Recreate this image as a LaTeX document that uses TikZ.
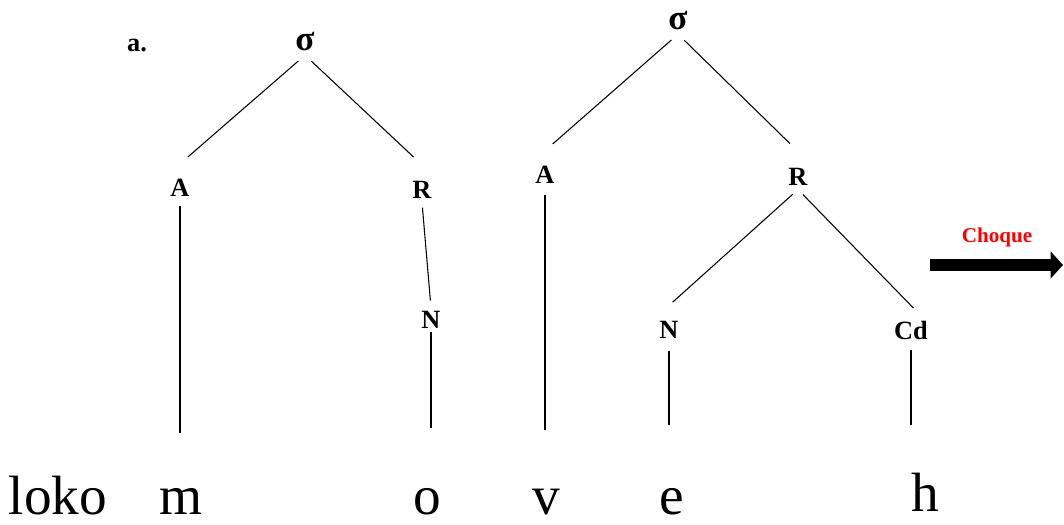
\documentclass[tikz,border=0pt]{standalone}
\usepackage{fontspec}
\setmainfont{Liberation Serif}
\usepackage{tikz}
\usetikzlibrary{positioning, arrows.meta}
\usepackage{xcolor}

\begin{document}
\begin{tikzpicture}[
    x=0.02cm, y=-0.02cm,
    lbl/.style={font=\bfseries\fontsize{15}{17}\selectfont, inner sep=2pt},
    sig/.style={font=\bfseries\fontsize{20}{22}\selectfont, inner sep=2pt},
    seg/.style={font=\fontsize{31.5}{34}\selectfont, anchor=base, inner sep=2pt},
    branch/.style={draw=black, line width=0.6pt},
    bigarrow/.style={line width=6.5pt, -{Triangle[length=7pt, width=15pt]}}
]
\useasboundingbox (0,0) rectangle (1064,524);

% Tree 1
\node (tag) [font=\bfseries\fontsize{15}{17}\selectfont] at (137,46) {a.};
\node (sig1) [sig] at (305,42) {σ};
\node (A1) [lbl] at (180,188) {A};
\node (R1) [lbl] at (422,190) {R};
\node (N1) [lbl] at (431,320) {N};

% Tree 2
\node (sig2) [sig] at (678,21) {σ};
\node (A2) [lbl] at (545,175) {A};
\node (R2) [lbl] at (798,177) {R};
\node (N2) [lbl] at (669,330) {N};
\node (Cd) [lbl] at (911,330) {Cd};

% Segments
\node (loko) [seg] at (58,514) {loko};
\node (m) [seg] at (181,514) {m};
\node (o) [seg] at (427,514) {o};
\node (v) [seg] at (546,514) {v};
\node (e) [seg] at (672,514) {e};
\node (h) [seg] at (925,511) {h};

% Branches
\draw [branch, shorten <=5pt, shorten >=16pt] (sig1.south) -- (A1.north west);
\draw [branch, shorten <=5pt, shorten >=17pt] (sig1.south) -- (R1.north east);
\draw [branch, shorten <=3pt] (A1.south) -- (A1.south |- 0,433);
\draw [branch, shorten <=3pt, shorten >=4pt] (R1.south) -- (N1.north);
\draw [branch] (N1.south) -- (N1.south |- 0,428);

\draw [branch, shorten <=5pt, shorten >=16pt] (sig2.south) -- (A2.north west);
\draw [branch, shorten <=5pt, shorten >=17pt] (sig2.south) -- (R2.north east);
\draw [branch, shorten <=4pt] (A2.south) -- (A2.south |- 0,430);
\draw [branch, shorten <=4pt, shorten >=13pt] (R2.south) -- (N2.north west);
\draw [branch, shorten <=4pt, shorten >=7pt] (R2.south) -- (Cd.50);
\draw [branch, shorten <=5pt] (N2.south) -- (N2.south |- 0,425);
\draw [branch, shorten <=4pt] (Cd.south) -- (Cd.south |- 0,425);

% Arrow
\node (choque) [font=\bfseries\fontsize{12}{14}\selectfont, text=red] at (997,237) {Choque};
\coordinate (arrS) at (930,265);
\coordinate (arrE) at (1063,265);
\draw [bigarrow] (arrS) -- (arrE);

\end{tikzpicture}
\end{document}
